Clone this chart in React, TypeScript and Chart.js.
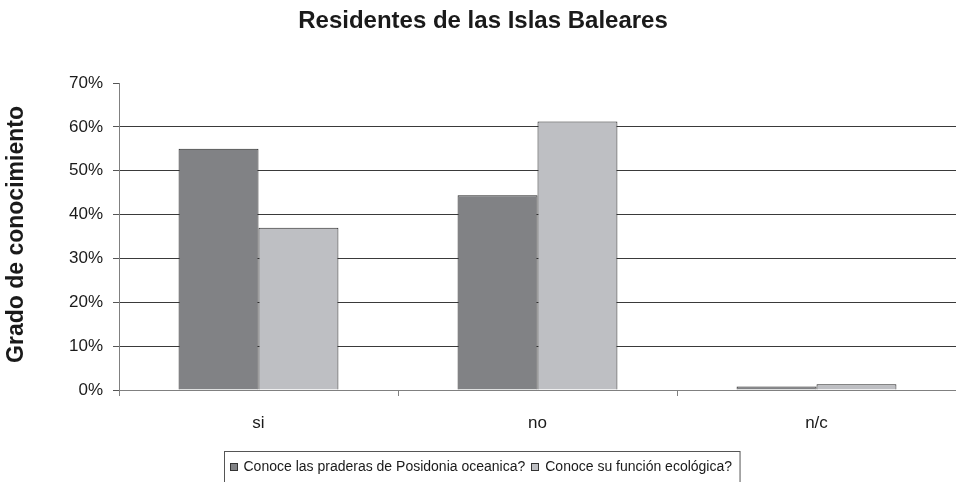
import React, { useEffect, useRef } from "react";
import { Chart, registerables } from "chart.js";

Chart.register(...registerables);

const TITLE = "Residentes de las Islas Baleares";
const Y_TITLE = "Grado de conocimiento";
const CATEGORIES = ["si", "no", "n/c"];
const SERIES_NAMES = [
  "Conoce las praderas de Posidonia oceanica?",
  "Conoce su función ecológica?",
];
const PRADERAS = [0.55, 0.444, 0.008];
const FUNCION = [0.37, 0.612, 0.013];
const Y_MAX = 0.7;
const Y_STEP = 0.1;

const FONT = "'Liberation Sans', Arial, sans-serif";

const decorPlugin = {
  id: "decor",
  afterDraw(chart: any) {
    const ctx = chart.ctx;
    const area = chart.chartArea;
    ctx.save();
    // title
    ctx.fillStyle = "#1a1a1a";
    ctx.font = `bold 24px ${FONT}`;
    ctx.textAlign = "center";
    ctx.textBaseline = "middle";
    ctx.fillText(TITLE, 483, 21);
    // y title
    ctx.save();
    ctx.translate(17, (area.top + area.bottom) / 2 - 2);
    ctx.rotate(-Math.PI / 2);
    ctx.font = `bold 23px ${FONT}`;
    ctx.fillText(Y_TITLE, 0, 0);
    ctx.restore();
    // legend
    ctx.font = `14px ${FONT}`;
    ctx.textAlign = "left";
    const ds = chart.data.datasets;
    const boxSize = 8;
    const gapBoxText = 6;
    const gapItems = 6;
    let total = 5;
    const widths = ds.map((d: any) => ctx.measureText(d.label).width);
    widths.forEach((w: number, i: number) => {
      total += boxSize + gapBoxText + w + (i < widths.length - 1 ? gapItems : 0);
    });
    total += 8;
    const left = Math.round(482 - total / 2) + 0.5;
    const top = 451.5;
    ctx.strokeStyle = "#555";
    ctx.lineWidth = 1;
    ctx.strokeRect(left, top, total, 40);
    const cy = 467;
    let x = left + 5;
    ds.forEach((d: any, i: number) => {
      ctx.fillStyle = d.backgroundColor;
      ctx.fillRect(Math.round(x), cy - 4, boxSize, boxSize);
      ctx.strokeStyle = "#333";
      ctx.strokeRect(Math.round(x) + 0.5, cy - 4 + 0.5, boxSize - 1, boxSize - 1);
      x += boxSize + gapBoxText;
      ctx.fillStyle = "#1a1a1a";
      ctx.textBaseline = "middle";
      ctx.fillText(d.label, x, cy);
      x += widths[i] + gapItems;
    });
    ctx.restore();
  },
};

export default function App() {
  const ref = useRef<HTMLCanvasElement | null>(null);
  useEffect(() => {
    document.body.style.margin = "0";
    const canvas = ref.current;
    if (!canvas) return;
    const chart = new Chart(canvas, {
      type: "bar",
      data: {
        labels: CATEGORIES,
        datasets: [
          {
            label: SERIES_NAMES[0],
            data: PRADERAS,
            backgroundColor: "#818285",
            borderColor: "#262626",
            borderWidth: 1,
            categoryPercentage: 0.573,
            barPercentage: 1,
          },
          {
            label: SERIES_NAMES[1],
            data: FUNCION,
            backgroundColor: "#bebfc3",
            borderColor: "#262626",
            borderWidth: 1,
            categoryPercentage: 0.573,
            barPercentage: 1,
          },
        ],
      },
      options: {
        animation: false,
        responsive: false,
        maintainAspectRatio: false,
        layout: { padding: { top: 83, left: 0, right: 0, bottom: 0 } },
        plugins: {
          legend: { display: false },
          title: { display: false },
          tooltip: { enabled: false },
        },
        scales: {
          x: {
            offset: true,
            afterFit: (s: any) => {
              s.height = 92;
            },
            grid: {
              offset: true,
              drawOnChartArea: false,
              tickLength: 6,
              color: "#808080",
            },
            border: { color: "#808080", width: 1 },
            ticks: {
              color: "#1a1a1a",
              padding: 17,
              font: { family: FONT, size: 17 },
            },
          },
          y: {
            min: 0,
            max: Y_MAX,
            afterFit: (s: any) => {
              s.width = 119;
            },
            grid: {
              color: (c: any) =>
                c.tick && (c.tick.value >= Y_MAX - 1e-9 || c.tick.value === 0)
                  ? "rgba(0,0,0,0)"
                  : "#3a3a3a",
              tickColor: "#555",
              tickLength: 6,
            },
            border: { color: "#808080", width: 1 },
            ticks: {
              stepSize: Y_STEP,
              padding: 10,
              color: "#1a1a1a",
              font: { family: FONT, size: 17 },
              callback: (v: any) => `${Math.round(Number(v) * 100)}%`,
            },
          },
        },
      },
      plugins: [decorPlugin],
    });
    return () => chart.destroy();
  }, []);
  return (
    <div style={{ width: 956, height: 482 }}>
      <canvas ref={ref} width={956} height={482} style={{ display: "block" }} />
    </div>
  );
}
